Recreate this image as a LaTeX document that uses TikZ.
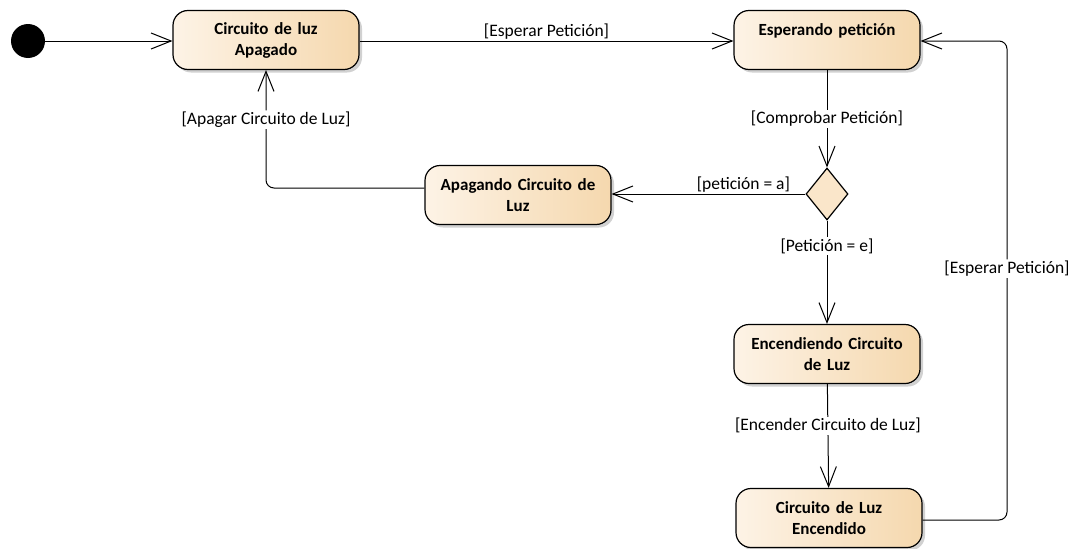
\documentclass[tikz,border=0pt]{standalone}
\usepackage{fontspec}
\setmainfont{Carlito}
\usetikzlibrary{arrows.meta,shapes.geometric,shadows}
\definecolor{stlight}{HTML}{FDF3E6}
\definecolor{stdark}{HTML}{F5D8AE}
\definecolor{decfill}{HTML}{FAE6CA}
\begin{document}
\begin{tikzpicture}[x=1pt,y=-1pt,
  state/.style={rounded corners=15pt, draw=black, line width=1.2pt,
    minimum width=186pt, minimum height=59pt, inner sep=2pt,
    left color=stlight, right color=stdark,
    drop shadow={shadow xshift=3pt, shadow yshift=-3pt, fill=black, opacity=0.18},
    font=\bfseries\fontsize{17}{21}\selectfont, align=center, text width=180pt},
  decision/.style={diamond, draw=black, line width=1.2pt, fill=decfill,
    minimum width=42pt, minimum height=52pt, inner sep=0pt},
  flow/.style={draw=black, line width=1pt,
    -{Straight Barb[length=20pt,width=16pt,line width=1pt]}},
  guard/.style={font=\fontsize{17.5}{19}\selectfont, fill=white, inner sep=1.5pt},
  note/.style={font=\fontsize{17.5}{19}\selectfont, inner sep=1.5pt}]
  \useasboundingbox (0,0) rectangle (1082,549);

  % states
  \node[circle, fill=black, minimum size=34pt, inner sep=0pt] (init) at (28,41) {};
  \node[state] (off) at (266,40) {Circuito de luz\\Apagado};
  \node[state] (wait) at (827,40) {Esperando petición\\\mbox{}};
  \node[state] (turnoff) at (518,195) {Apagando Circuito de\\Luz};
  \node[decision] (dec) at (827,194) {};
  \node[state] (turnon) at (827,354) {Encendiendo Circuito\\de Luz};
  \node[state] (on) at (829,518) {Circuito de Luz\\Encendido};

  \coordinate (loopB) at (1007,520);
  \coordinate (loopT) at (1007,41);
  \coordinate (offB) at (266,188);

  % transitions
  \draw[flow] (init.east) -- (init.east -| off.west);
  \draw[flow] (off.east |- init.east) -- node[note, above] {[Esperar Petición]} (wait.west |- init.east);
  \draw[flow] (wait) -- node[guard] {[Comprobar Petición]} (dec);
  \draw[flow] (dec.west) -- node[note, above, pos=0.32] {[petición = a]} (dec.west -| turnoff.east);
  \draw[flow, rounded corners=8pt] (turnoff.west |- offB) -- (offB)
      -- node[guard, pos=0.58] {[Apagar Circuito de Luz]} (off.south);
  \draw[flow] (dec) -- node[guard, pos=0.25] {[Petición = e]} (turnon);
  \draw[flow] (turnon) -- node[guard, pos=0.4] {[Encender Circuito de Luz]} (on);
  \draw[flow, rounded corners=8pt] (on.east |- loopB) -- (loopB)
      -- node[guard, pos=0.525] {[Esperar Petición]} (loopT) -- (wait.east |- loopT);
\end{tikzpicture}
\end{document}
